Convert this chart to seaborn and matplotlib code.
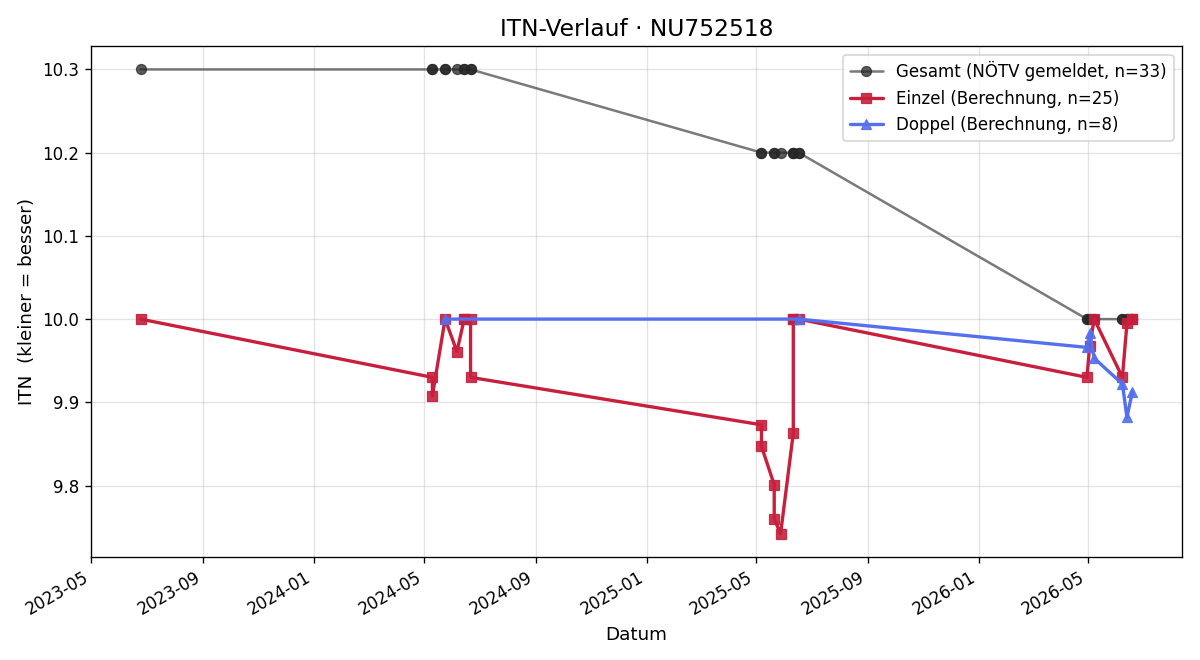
import matplotlib
matplotlib.use("Agg")
import matplotlib.pyplot as plt
import matplotlib.dates as mdates
import seaborn as sns
import pandas as pd

title = "ITN-Verlauf · NU752518"

gesamt_dates = ["2023-06-24",
                "2024-05-10", "2024-05-10", "2024-05-24", "2024-05-24", "2024-06-06",
                "2024-06-14", "2024-06-14", "2024-06-21", "2024-06-21",
                "2025-05-07", "2025-05-07", "2025-05-21", "2025-05-21", "2025-05-28",
                "2025-06-11", "2025-06-11", "2025-06-11", "2025-06-17", "2025-06-17",
                "2026-04-30", "2026-04-30", "2026-05-03", "2026-05-03", "2026-05-08",
                "2026-05-08", "2026-06-08", "2026-06-08", "2026-06-13", "2026-06-13",
                "2026-06-19", "2026-06-19", "2026-06-19"]
gesamt_itn = [10.3,
              10.3, 10.3, 10.3, 10.3, 10.3, 10.3, 10.3, 10.3, 10.3,
              10.2, 10.2, 10.2, 10.2, 10.2, 10.2, 10.2, 10.2, 10.2, 10.2,
              10.0, 10.0, 10.0, 10.0, 10.0, 10.0, 10.0, 10.0, 10.0, 10.0,
              10.0, 10.0, 10.0]

einzel_dates = ["2023-06-24", "2024-05-10", "2024-05-10", "2024-05-24", "2024-06-06",
                "2024-06-14", "2024-06-14", "2024-06-21", "2024-06-21",
                "2025-05-07", "2025-05-07", "2025-05-21", "2025-05-21", "2025-05-28",
                "2025-06-11", "2025-06-11", "2025-06-11", "2025-06-17",
                "2026-04-30", "2026-05-03", "2026-05-08", "2026-06-08", "2026-06-13",
                "2026-06-19", "2026-06-19"]
einzel_itn = [10.0, 9.93, 9.908, 10.0, 9.961, 10.0, 10.0, 10.0, 9.93,
              9.873, 9.847, 9.801, 9.760, 9.742, 9.863, 10.0, 10.0, 10.0,
              9.93, 9.968, 10.0, 9.93, 9.995, 10.0, 10.0]

doppel_dates = ["2024-05-24", "2025-06-17", "2026-04-30", "2026-05-03", "2026-05-08",
                "2026-06-08", "2026-06-13", "2026-06-19"]
doppel_itn = [10.0, 10.0, 9.966, 9.983, 9.953, 9.922, 9.882, 9.913]

labels = ["Gesamt (NÖTV gemeldet, n=33)",
          "Einzel (Berechnung, n=25)",
          "Doppel (Berechnung, n=8)"]

df_g = pd.DataFrame({"Datum": pd.to_datetime(gesamt_dates), "ITN": gesamt_itn})
df_e = pd.DataFrame({"Datum": pd.to_datetime(einzel_dates), "ITN": einzel_itn})
df_d = pd.DataFrame({"Datum": pd.to_datetime(doppel_dates), "ITN": doppel_itn})

sns.set_theme(style="whitegrid")
plt.rcParams.update({
    "font.family": ["DejaVu Sans"],
    "font.size": 10,
    "axes.edgecolor": "black",
    "axes.linewidth": 0.8,
    "axes.labelcolor": "black",
    "text.color": "black",
    "grid.color": "#b0b0b0",
    "grid.alpha": 0.35,
    "grid.linewidth": 0.8,
    "xtick.bottom": True,
    "ytick.left": True,
    "xtick.major.size": 3.5,
    "ytick.major.size": 3.5,
    "xtick.major.width": 0.8,
    "ytick.major.width": 0.8,
    "xtick.color": "black",
    "ytick.color": "black",
})

fig, ax = plt.subplots(figsize=(10, 5.5), dpi=120)
fig.subplots_adjust(left=0.0758, right=0.985, top=0.930, bottom=0.156)

sns.lineplot(data=df_g, x="Datum", y="ITN", ax=ax, sort=False, estimator=None,
             color=(0.3, 0.3, 0.3, 0.75), linewidth=1.5, marker="o", markersize=6,
             markerfacecolor=(0.15, 0.15, 0.15, 0.75), markeredgecolor=(0.15, 0.15, 0.15, 0.75),
             label=labels[0])
sns.lineplot(data=df_e, x="Datum", y="ITN", ax=ax, sort=False, estimator=None,
             color="#c8203c", linewidth=2.0, marker="s", markersize=6,
             markerfacecolor=(0.78, 0.12, 0.24, 0.9), markeredgecolor=(0.78, 0.12, 0.24, 0.9),
             label=labels[1])
sns.lineplot(data=df_d, x="Datum", y="ITN", ax=ax, sort=False, estimator=None,
             color="#5470ee", linewidth=2.0, marker="^", markersize=6,
             markerfacecolor=(0.33, 0.44, 0.93, 0.9), markeredgecolor=(0.33, 0.44, 0.93, 0.9),
             label=labels[2])

ax.set_title(title, fontsize=14)
ax.set_xlabel("Datum", fontsize=11)
ax.set_ylabel("ITN  (kleiner = besser)", fontsize=11)
ax.xaxis.set_major_locator(mdates.MonthLocator(bymonth=[1, 5, 9]))
ax.xaxis.set_major_formatter(mdates.DateFormatter("%Y-%m"))
ax.tick_params(axis="both", labelsize=10)
for lbl in ax.get_xticklabels():
    lbl.set_rotation(30)
    lbl.set_ha("right")
ax.margins(x=0.05, y=0.05)
for s in ax.spines.values():
    s.set_color("black")
ax.grid(True)
ax.legend(loc="upper right", fontsize=10, frameon=True, framealpha=0.8)

fig.savefig("out.png", dpi=120)
